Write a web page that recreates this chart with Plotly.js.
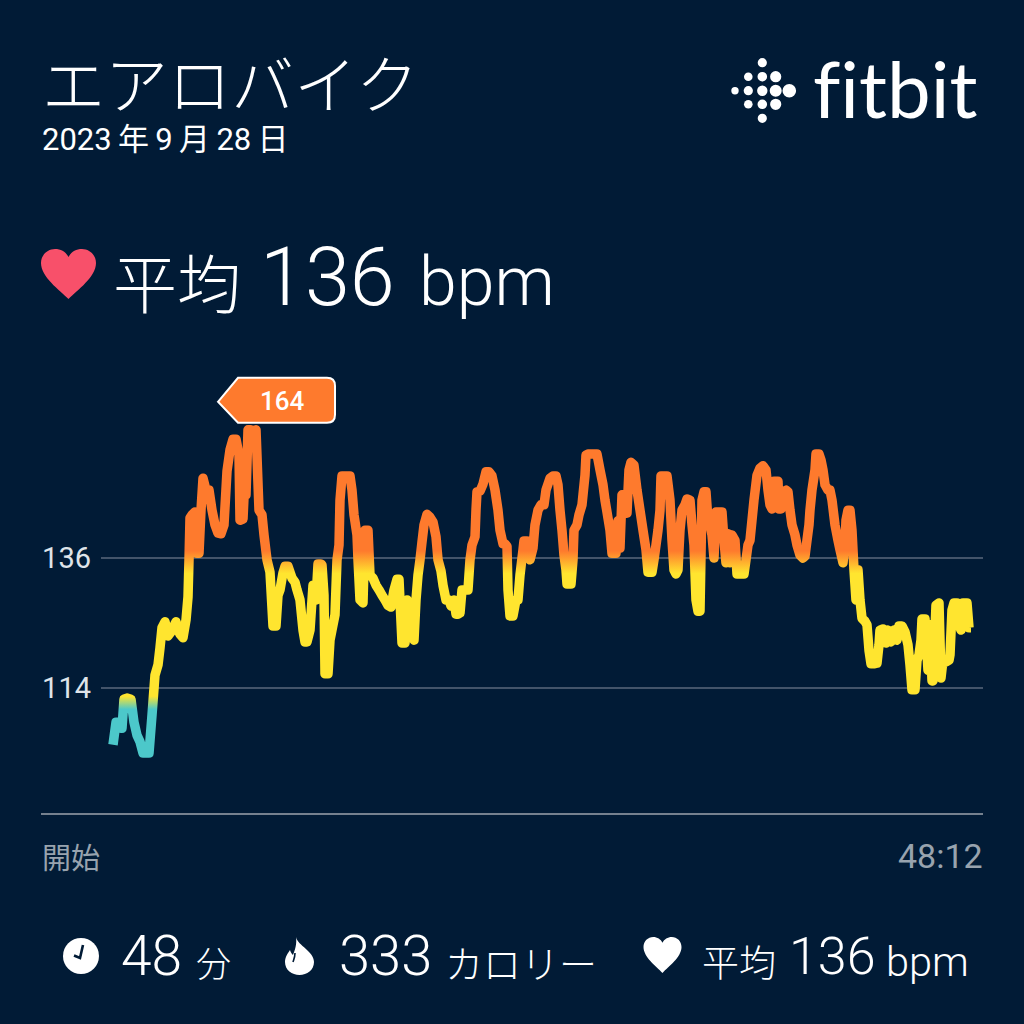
<!DOCTYPE html>
<html><head><meta charset="utf-8">
<script src="https://cdn.plot.ly/plotly-3.0.1.min.js"></script>
<style>html,body{margin:0;padding:0;background:#011b36}</style>
</head><body><div id="chart" style="width:1024px;height:1024px"></div>
<script>
const sampleTick = [
1,4,7,9,10,12,15,19,22,25,
28,31,34,37,40,43,46,48,50,53,
56,59,64,66,68,71,74,76,77,78,
80,83,85,87,89,91,94,97,100,103,
106,109,112,115,118,121,124,127,128,131,
133,134,136,139,142,144,147,150,152,155,
158,161,164,166,168,171,173,176,180,183,
185,188,191,193,195,198,201,203,204,206,
209,210,212,213,216,218,221,223,225,227,
228,230,233,238,240,242,245,246,248,251,
253,256,258,261,264,267,270,273,276,279,
282,285,287,290,293,295,297,300,302,304,
306,308,310,312,315,318,321,324,326,329,
331,334,337,339,342,344,346,348,350,353,
356,358,360,363,364,365,368,371,374,377,
380,383,386,388,391,393,395,396,398,401,
404,406,408,411,412,415,418,421,423,426,
429,432,434,438,441,444,446,448,450,452,
454,455,459,461,462,465,467,470,473,474,
476,479,482,485,488,491,493,495,498,500,
504,506,508,510,512,515,517,519,522,525,
528,531,534,536,540,542,544,546,548,549,
552,555,558,560,562,564,566,568,570,573,
575,578,580,582,584,586,588,590,592,594,
596,598,600,602,604,607,610,612,614,616,
618,620,623,625,629,632,634,636,638,640,
642,645,648,651,654,656,658,660,662,666,
667,669,671,674,676,678,680,683,685,688,
691,693,695,697,698,700,703,704,707,709,
711,713,716,718,720,723,726,728,731,733,
734,736,738,740,741,742,744,746,748,750,
753,755,757,759,762,765,767,768,771,774,
776,779,782,785,787,790,793,796,798,800,
803,805,807,809,810,813,816,818,820,821,
824,827,829,831,834,837,838,840,842,845,
847,849,851,855,857,859];
const heartRate = [
104.4,108.2,108.2,107.2,107.2,112.1,112.3,112.1,108.2,106.0,
104.9,103.0,103.0,103.0,109.4,116.2,117.9,120.8,124.2,125.2,
122.8,123.5,125.2,123.8,123.1,122.5,125.5,129.4,135.7,142.8,
143.3,143.8,136.8,136.8,144.1,149.5,147.5,147.5,144.1,141.6,
140.2,140.1,141.6,150.7,154.3,156.1,156.1,153.4,142.4,142.6,
150.0,146.7,157.7,157.7,157.5,157.7,144.1,143.3,139.9,135.7,
133.6,124.5,124.5,129.7,130.6,133.5,134.6,134.6,132.6,131.9,
130.6,128.9,123.8,121.8,121.8,123.8,131.4,131.3,128.9,135.0,
135.0,134.8,129.7,116.4,116.4,122.1,124.7,126.4,135.7,138.2,
145.8,149.9,149.9,149.9,147.5,143.3,139.9,135.7,128.9,128.4,
140.7,140.7,133.1,132.6,131.4,130.6,129.7,128.9,128.0,127.7,
130.6,132.4,132.4,121.6,121.6,128.9,123.0,123.0,122.1,128.9,
133.1,135.7,138.7,141.6,143.4,142.9,142.1,139.6,135.7,133.8,
131.4,128.9,128.9,127.9,128.9,126.5,126.5,126.7,130.6,130.6,
130.6,135.7,138.2,139.6,144.1,147.2,147.3,148.5,150.6,150.6,
149.9,147.5,144.1,140.7,138.4,138.4,138.0,130.6,126.2,126.2,
128.9,128.9,133.1,137.4,138.9,138.9,135.7,137.7,141.6,144.1,
145.0,145.0,147.5,149.5,149.9,149.9,148.4,144.1,140.7,136.5,
134.0,131.6,131.6,135.7,140.7,141.6,143.3,145.0,150.0,153.4,
153.6,153.6,153.6,153.6,150.9,148.4,145.8,143.8,140.7,136.8,
136.8,142.3,137.7,146.7,146.7,143.6,150.9,152.2,151.7,147.5,
144.1,140.7,137.4,133.6,133.6,135.7,138.2,140.7,144.1,149.9,
149.9,149.9,145.8,139.0,134.0,133.3,134.0,140.7,144.1,145.0,
146.0,145.8,141.6,138.2,128.9,127.0,127.0,145.8,147.2,147.2,
142.4,141.6,139.9,136.0,143.8,143.8,143.8,139.0,135.2,140.1,
135.2,139.9,139.0,133.3,133.3,133.3,135.7,138.2,139.0,142.4,
145.8,150.0,151.2,151.6,150.9,147.5,145.0,144.3,149.0,149.0,
144.3,144.3,146.8,147.5,147.2,144.1,141.6,139.9,138.2,136.5,
136.0,136.3,139.0,141.6,144.1,147.5,150.9,153.6,153.6,152.6,
150.9,148.4,147.5,147.5,145.8,141.6,139.0,137.4,135.2,138.2,
142.4,144.1,144.1,140.7,137.4,134.0,128.9,134.0,128.9,125.8,
125.3,124.7,120.4,118.1,118.1,118.2,121.3,123.8,124.0,121.6,
123.8,121.8,123.8,122.1,124.5,124.5,123.5,121.3,117.9,113.7,
113.7,118.7,119.6,122.1,125.7,125.7,117.0,124.7,115.2,115.2,
128.0,128.4,115.7,118.7,118.4,118.7,119.6,127.2,128.4,128.4,
124.7,123.8,128.4,128.4,124.2,124.2];
const secondsPerTick = 3.367;
const elapsedSeconds = sampleTick.map(t => t * secondsPerTick);
const yTickValues = [114, 136];
const yTickLabels = ['114', '136'];
const peakIndex = 53;
const peakLabel = '164';
const zoneStops = [[103, '#4cc8ca'], [110.4, '#4cc8ca'], [112.6, '#ffe52f'], [133.4, '#ffe52f'], [137.2, '#fe7a2d'], [158, '#fe7a2d']];

const BG = '#011b36', WHITE = '#ffffff', GRAY = '#98a3ae';
const JP = '"Noto Sans CJK JP","Noto Sans",sans-serif', LAT = 'Roboto,"Noto Sans CJK JP",sans-serif';
const px = X => (X - 101) / 882, py = Y => (814 - Y) / 444;

function label(text, X, Y, size, opt = {}) {
  return {text, xref: 'paper', yref: 'paper', x: px(X), y: py(Y), showarrow: false,
    xanchor: opt.anchor || 'left', yanchor: 'middle', align: 'left', borderpad: 0, borderwidth: 0,
    font: {family: opt.family || JP, size, color: opt.color || WHITE, weight: opt.weight || 300}};
}
function pth(cmds, fill, extra = {}) {
  let i = 0;
  const path = cmds.replace(/-?\d+(\.\d+)?/g, m => { const v = +m; return (i++ % 2 === 0 ? px(v) : py(v)).toFixed(5); });
  return Object.assign({type: 'path', xref: 'paper', yref: 'paper', path, fillcolor: fill, line: {width: 0}, layer: 'above'}, extra);
}
function heart(cx, top, w, h, fill) {
  const sx = w / 55, sy = h / 50;
  const f = (dx, dy) => (cx + dx * sx).toFixed(1) + ' ' + (top + dy * sy).toFixed(1);
  return pth(`M ${f(0,50)} C ${f(-9,41)} ${f(-27.5,28)} ${f(-27.5,14)} C ${f(-27.5,6)} ${f(-21,0)} ${f(-13.5,0)} C ${f(-7.5,0)} ${f(-2.5,3)} ${f(0,8)} C ${f(2.5,3)} ${f(7.5,0)} ${f(13.5,0)} C ${f(21,0)} ${f(27.5,6)} ${f(27.5,14)} C ${f(27.5,28)} ${f(9,41)} ${f(0,50)} Z`, fill);
}
function dot(X, Y, r, fill) {
  return {type: 'circle', xref: 'paper', yref: 'paper', x0: px(X - r), x1: px(X + r), y0: py(Y + r), y1: py(Y - r), fillcolor: fill, line: {width: 0}, layer: 'above'};
}
const logoDots = [[735,90.7,3.7],[748.3,76.7,4.3],[748.3,90.7,4.6],[748.3,104.3,4.3],
  [762.3,62.7,4.6],[762.3,76.7,4.8],[762.3,90.7,5.2],[762.3,104.3,4.8],[762.3,118.3,4.6],
  [775.7,76.7,5.6],[775.7,90.7,6],[775.7,104.3,5.6],[789.3,90.7,6.8]];

const shapes = [
  {type: 'line', xref: 'paper', yref: 'paper', x0: px(41), x1: px(983), y0: 0, y1: 0, line: {color: '#75818f', width: 2}, layer: 'below'},
  heart(68.5, 249, 55, 50, '#f8506a'),
  dot(81, 956, 18, WHITE),
  pth('M 83 945 L 80 958 L 74 955.5', 'rgba(0,0,0,0)', {line: {color: BG, width: 2.6}}),
  pth('M 296 937 C 298 946 314 951 314 962 C 314 970 307 975 299.5 975 C 292 975 285 970 285 962 C 285 957 288 953 290 950 C 291 953 292 954 293 955 C 295 950 297 944 296 937 Z', WHITE),
  pth('M 293 962 C 294 959 295 957 295 953', 'rgba(0,0,0,0)', {line: {color: BG, width: 1.6}}),
  heart(662.5, 937, 38, 36, WHITE),
  {type: 'path', xref: 'x', yref: 'y', xsizemode: 'pixel', ysizemode: 'pixel',
   xanchor: elapsedSeconds[peakIndex], yanchor: heartRate[peakIndex],
   path: 'M -33 28 L -13 52 L 76 52 Q 84 52 84 44 L 84 15 Q 84 7 76 7 L -13 7 Z',
   fillcolor: '#fe7a2d', line: {color: WHITE, width: 2}, layer: 'above'}
].concat(logoDots.map(d => dot(d[0], d[1], d[2], WHITE)));

const annotations = [
  label('エアロバイク', 42, 80, 63),
  label('2023\u2009年\u20099\u2009月\u200928\u2009日', 42, 139, 31, {family: LAT, weight: 400}),
  label('f\u200Citbit', 813, 88, 78, {family: 'Lato,Roboto,sans-serif', weight: 400}),
  label('平均', 113, 280, 64),
  label('136', 260, 278, 81, {family: LAT}),
  label('bpm', 419, 282, 68, {family: LAT}),
  label('開始', 42, 856, 29, {color: GRAY, weight: 400}),
  label('48:12', 983, 856, 34, {color: GRAY, anchor: 'right', family: LAT, weight: 400}),
  label('48', 121, 956, 55, {family: LAT}),
  label('分', 196, 961, 35),
  label('333', 339, 956, 56, {family: LAT}),
  label('カロリー', 445, 961, 38),
  label('平均', 702, 961, 37),
  label('136', 789, 956, 52, {family: LAT}),
  label('bpm', 886, 961, 41.5, {family: LAT}),
  {text: peakLabel, xref: 'x', yref: 'y', x: elapsedSeconds[peakIndex], y: heartRate[peakIndex], xshift: 31, yshift: 29,
   showarrow: false, font: {family: LAT, size: 26, color: WHITE, weight: 500}}
];

const trace = {type: 'scatter', mode: 'lines', x: elapsedSeconds, y: heartRate,
  line: {color: '#ffe52f', width: 9.5, shape: 'linear', simplify: false}, hoverinfo: 'skip', cliponaxis: false};

const layout = {
  width: 1024, height: 1024, paper_bgcolor: BG, plot_bgcolor: BG, showlegend: false,
  margin: {l: 101, r: 41, t: 370, b: 210, pad: 0},
  font: {family: LAT},
  xaxis: {range: [-37.04, 2932.7], visible: false, fixedrange: true},
  yaxis: {range: [92.68, 167.82], tickmode: 'array', tickvals: yTickValues, ticktext: yTickLabels, showgrid: true,
    gridcolor: '#43546a', gridwidth: 2, zeroline: false, showline: false, ticks: '', ticklabelstandoff: 9,
    tickfont: {family: LAT, size: 29, color: '#dfe4e9'}, fixedrange: true},
  shapes, annotations
};

Plotly.newPlot('chart', [trace], layout, {displayModeBar: false, staticPlot: true}).then(gd => {
  // The line colour depends on the heart-rate zone, so stroke the path with a gradient placed by the y axis.
  const ya = gd._fullLayout.yaxis;
  const NS = 'http://www.w3.org/2000/svg';
  const svg = gd.querySelector('svg.main-svg');
  const defs = svg.querySelector('defs') || svg.insertBefore(document.createElementNS(NS, 'defs'), svg.firstChild);
  const g = document.createElementNS(NS, 'linearGradient');
  g.setAttribute('id', 'hrZones');
  g.setAttribute('gradientUnits', 'userSpaceOnUse');
  const y0 = ya.l2p(zoneStops[0][0]), y1 = ya.l2p(zoneStops[zoneStops.length - 1][0]);
  g.setAttribute('x1', 0); g.setAttribute('x2', 0); g.setAttribute('y1', y0); g.setAttribute('y2', y1);
  zoneStops.forEach(([v, c]) => {
    const s = document.createElementNS(NS, 'stop');
    s.setAttribute('offset', (ya.l2p(v) - y0) / (y1 - y0));
    s.setAttribute('stop-color', c);
    g.appendChild(s);
  });
  defs.appendChild(g);
  gd.querySelectorAll('.scatterlayer .js-line').forEach(p => {
    p.style.stroke = 'url(#hrZones)';
    p.style.strokeLinejoin = 'round';
  });
});
</script></body></html>
